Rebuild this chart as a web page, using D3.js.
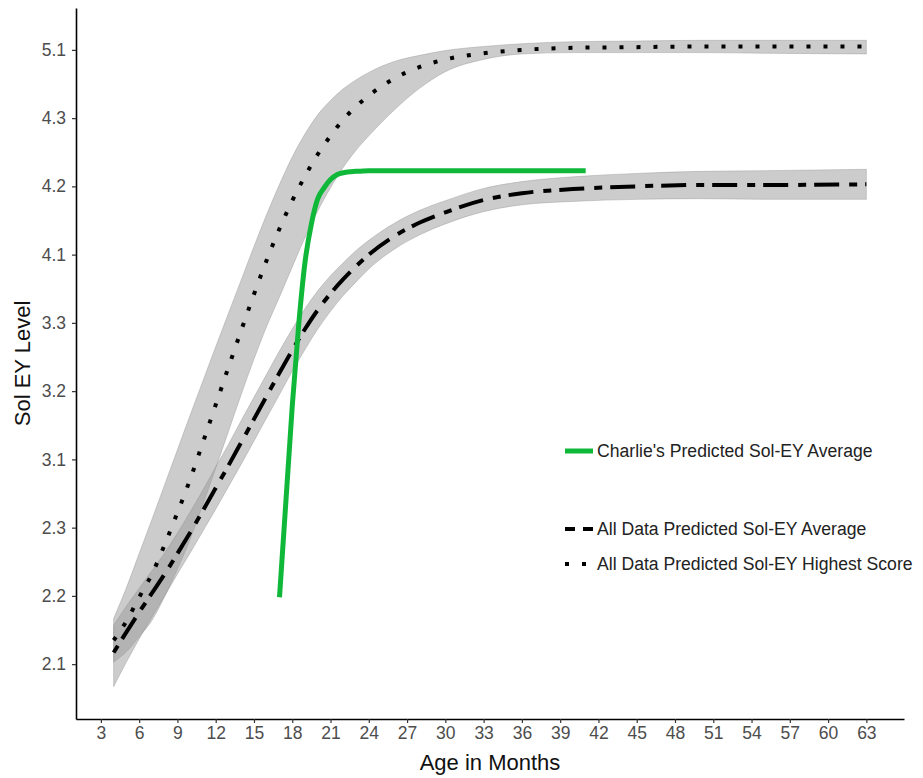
<!DOCTYPE html>
<html>
<head>
<meta charset="utf-8">
<script src="https://cdn.jsdelivr.net/npm/d3@7/dist/d3.min.js"></script>
<style>
  body { margin: 0; background: #fff; }
  svg text { font-family: "Liberation Sans", Arial, Helvetica, sans-serif; }
</style>
</head>
<body>
<svg width="923" height="778"></svg>
<script>
// Data (y values are positions on the level scale: 0 = "2.1" ... 9 = "5.1")
const months = [4,5,6,7,8,9,10,11,12,13,14,15,16,17,18,19,20,21,22,23,24,26,28,30,33,36,40,45,50,55,63];

const highScore = [0.35,0.63,0.98,1.32,1.75,2.22,2.71,3.25,3.80,4.35,4.89,5.42,5.92,6.38,6.79,7.15,7.47,7.74,7.98,8.17,8.33,8.58,8.75,8.86,8.95,9.00,9.03,9.04,9.05,9.05,9.05];
const highHi    = [0.67,1.12,1.62,2.12,2.63,3.14,3.65,4.15,4.65,5.14,5.63,6.12,6.59,7.03,7.43,7.77,8.05,8.26,8.43,8.56,8.67,8.83,8.92,8.99,9.05,9.09,9.12,9.13,9.14,9.14,9.14];
const highLo    = [0.03,0.18,0.40,0.64,0.99,1.39,1.83,2.34,2.87,3.41,3.95,4.47,4.95,5.38,5.82,6.25,6.64,6.98,7.28,7.53,7.74,8.12,8.44,8.68,8.86,8.94,8.96,8.96,8.96,8.95,8.94];

const average   = [0.17,0.47,0.76,1.04,1.32,1.62,1.93,2.25,2.58,2.91,3.25,3.59,3.93,4.27,4.60,4.91,5.19,5.43,5.64,5.83,6.00,6.27,6.47,6.62,6.80,6.90,6.96,7.00,7.02,7.02,7.03];
const avgHi     = [0.57,0.85,1.11,1.37,1.63,1.92,2.23,2.55,2.89,3.22,3.57,3.91,4.25,4.59,4.91,5.21,5.47,5.69,5.88,6.06,6.21,6.46,6.65,6.79,6.97,7.07,7.14,7.19,7.22,7.23,7.25];
const avgLo     = [-0.33,0.03,0.37,0.69,1.00,1.32,1.63,1.95,2.27,2.60,2.93,3.27,3.61,3.95,4.29,4.61,4.91,5.17,5.40,5.60,5.79,6.08,6.29,6.45,6.63,6.73,6.78,6.81,6.82,6.81,6.81];

const charlieMonths = [17,18,18.5,19,19.5,20,20.5,21,21.5,22,23,24,30,41];
const charlie       = [0.98,3.78,4.96,5.89,6.45,6.82,6.98,7.10,7.17,7.20,7.22,7.23,7.23,7.23];

const xTicks = [3,6,9,12,15,18,21,24,27,30,33,36,39,42,45,48,51,54,57,60,63];
const yTickLabels = ["2.1","2.2","2.3","3.1","3.2","3.3","4.1","4.2","4.3","5.1"];

const legendLabels = ["Charlie's Predicted Sol-EY Average", "All Data Predicted Sol-EY Average", "All Data Predicted Sol-EY Highest Score"];

// Layout (panel box)
var svg = d3.select("svg");
var panelLeft = 76, panelRight = 904, panelTop = 8, panelBottom = 719;
var green = "#10b83a";

// Scales with ggplot-like 5% expansion
var xMin = d3.min(months), xMax = d3.max(months);
var xPad = (xMax - xMin) * 0.05;
var x = d3.scaleLinear().domain([xMin - xPad, xMax + xPad]).range([panelLeft, panelRight]);

var yMin = d3.min(avgLo), yMax = d3.max(highHi);
var yPad = (yMax - yMin) * 0.05;
var y = d3.scaleLinear().domain([yMin - yPad, yMax + yPad]).range([panelBottom, panelTop]);

var high = months.map((m, i) => ({ m: m, v: highScore[i], lo: highLo[i], hi: highHi[i] }));
var avg = months.map((m, i) => ({ m: m, v: average[i], lo: avgLo[i], hi: avgHi[i] }));
var charl = charlieMonths.map((m, i) => ({ m: m, v: charlie[i] }));

var area = d3.area()
    .x(d => x(d.m))
    .y0(d => y(d.lo))
    .y1(d => y(d.hi))
    .curve(d3.curveMonotoneX);
var line = d3.line()
    .x(d => x(d.m))
    .y(d => y(d.v))
    .curve(d3.curveMonotoneX);

// Ribbons
[high, avg].forEach(function (d) {
    svg.append("path")
        .datum(d)
        .attr("d", area)
        .attr("fill", "#999999")
        .attr("fill-opacity", 0.5)
        .attr("stroke", "#8a8a8a")
        .attr("stroke-opacity", 0.45)
        .attr("stroke-width", 0.8);
});

// Lines
svg.append("path")
    .datum(high)
    .attr("d", line)
    .attr("fill", "none")
    .attr("stroke", "#000")
    .attr("stroke-width", 4)
    .attr("stroke-dasharray", "4,13");

svg.append("path")
    .datum(avg)
    .attr("d", line)
    .attr("fill", "none")
    .attr("stroke", "#000")
    .attr("stroke-width", 4)
    .attr("stroke-dasharray", "8,8,25,10");

svg.append("path")
    .datum(charl)
    .attr("d", line)
    .attr("fill", "none")
    .attr("stroke", green)
    .attr("stroke-width", 5);

// Axes
var xAxis = svg.append("g")
    .attr("transform", "translate(0," + panelBottom + ")")
    .call(d3.axisBottom(x).tickValues(xTicks).tickSize(4).tickSizeOuter(0).tickPadding(4));
var yAxis = svg.append("g")
    .attr("transform", "translate(" + panelLeft + ",0)")
    .call(d3.axisLeft(y).tickValues(d3.range(yTickLabels.length)).tickFormat(i => yTickLabels[i])
        .tickSize(4).tickSizeOuter(0).tickPadding(6));

[xAxis, yAxis].forEach(function (g) {
    g.select(".domain").attr("stroke", "#000").attr("stroke-width", 1.6);
    g.selectAll(".tick line").attr("stroke", "#333").attr("stroke-width", 1.2);
    g.selectAll(".tick text")
        .attr("fill", "#4d4d4d")
        .attr("font-size", "17.5px")
        .style("font-family", "'Liberation Sans', Arial, sans-serif");
});

// Axis titles
svg.append("text")
    .attr("x", (panelLeft + panelRight) / 2)
    .attr("y", 770)
    .attr("text-anchor", "middle")
    .attr("font-size", "22px")
    .attr("fill", "#111")
    .text("Age in Months");
svg.append("text")
    .attr("transform", "translate(30," + (panelTop + panelBottom) / 2 + ") rotate(-90)")
    .attr("text-anchor", "middle")
    .attr("font-size", "22px")
    .attr("fill", "#111")
    .text("Sol EY Level");

// Legends
var keyX = 565, keyW = 28, textX = 597;
var legendY = [451, 529, 564];
var keyStyles = [
    { stroke: green, width: 5, dash: null },
    { stroke: "#000", width: 4, dash: "10,8,12,10" },
    { stroke: "#000", width: 4, dash: "4,13" }
];
legendLabels.forEach(function (label, i) {
    var k = svg.append("line")
        .attr("x1", keyX).attr("x2", keyX + keyW)
        .attr("y1", legendY[i]).attr("y2", legendY[i])
        .attr("stroke", keyStyles[i].stroke)
        .attr("stroke-width", keyStyles[i].width);
    if (keyStyles[i].dash) k.attr("stroke-dasharray", keyStyles[i].dash);
    svg.append("text")
        .attr("x", textX)
        .attr("y", legendY[i])
        .attr("dy", "0.35em")
        .attr("font-size", "17.6px")
        .attr("fill", "#222")
        .text(label);
});
</script>
</body>
</html>
